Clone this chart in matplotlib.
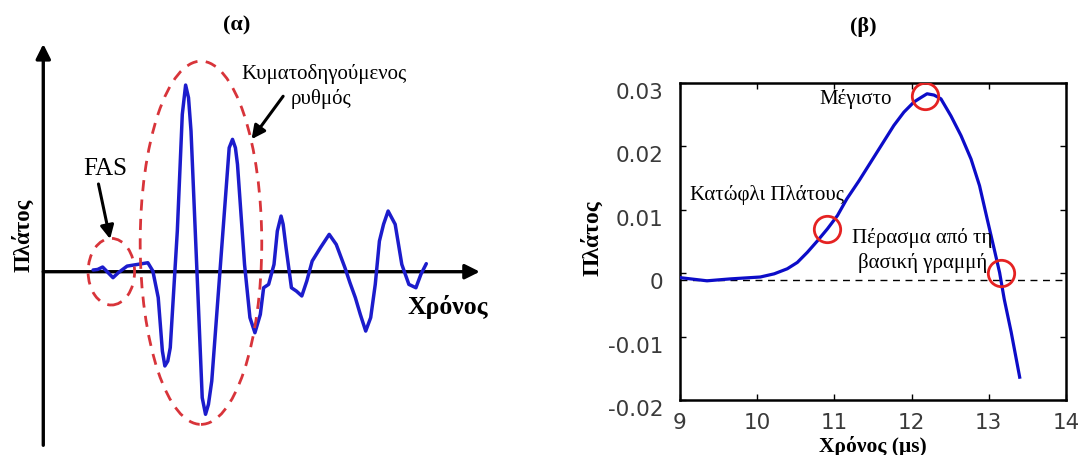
import matplotlib.pyplot as plt
from matplotlib.patches import Ellipse
from matplotlib.transforms import ScaledTranslation

plt.rcParams['font.family'] = ['Liberation Serif', 'DejaVu Serif']

# (a) guided-wave signal, arbitrary time / amplitude units
t_wave = [1.20, 1.31, 1.43, 1.68, 1.81, 2.02, 2.27, 2.52, 2.64, 2.77, 2.87, 2.93, 3.00,
          3.06, 3.23, 3.35, 3.43, 3.50, 3.56, 3.73, 3.83, 3.91, 3.98, 4.06, 4.27,
          4.48, 4.56, 4.63, 4.68, 4.85, 4.98, 5.10, 5.23, 5.31, 5.43, 5.56, 5.64,
          5.73, 5.78, 5.85, 5.98, 6.10, 6.23, 6.35, 6.48, 6.68, 6.89, 7.06, 7.27,
          7.39, 7.52, 7.64, 7.77, 7.89, 8.00, 8.10, 8.20, 8.31, 8.48, 8.64, 8.81,
          8.98, 9.10, 9.23]
a_wave = [0.009, 0.012, 0.025, -0.032, -0.005, 0.030, 0.039, 0.048, 0.004, -0.139,
          -0.425, -0.505, -0.479, -0.407, 0.218, 0.843, 1.000, 0.932, 0.754, -0.139,
          -0.675, -0.764, -0.711, -0.586, 0.039, 0.664, 0.709, 0.664, 0.575, 0.039,
          -0.246, -0.327, -0.229, -0.086, -0.068, 0.039, 0.218, 0.298, 0.254, 0.129,
          -0.086, -0.104, -0.130, -0.050, 0.057, 0.129, 0.200, 0.146, 0.021, -0.059,
          -0.139, -0.229, -0.318, -0.246, -0.068, 0.164, 0.254, 0.325, 0.254, 0.039,
          -0.068, -0.086, -0.014, 0.043]

# (b) zoom on the first arrival, time in microseconds
t_us = [9.00, 9.35, 9.65, 10.04, 10.22, 10.39, 10.52, 10.65, 10.78, 10.91, 11.04,
        11.16, 11.32, 11.47, 11.62, 11.77, 11.90, 12.03, 12.12, 12.20, 12.29, 12.38,
        12.51, 12.64, 12.77, 12.88, 12.98, 13.07, 13.14, 13.20, 13.29, 13.40]
amp = [-0.0007, -0.0012, -0.0009, -0.0006, -0.0001, 0.0007, 0.0017, 0.0033, 0.0051,
       0.0070, 0.0091, 0.0117, 0.0146, 0.0175, 0.0204, 0.0233, 0.0254, 0.0270, 0.0277,
       0.0283, 0.0281, 0.0275, 0.0248, 0.0217, 0.0180, 0.0138, 0.0085, 0.0038, 0.0001,
       -0.0041, -0.0093, -0.0164]
baseline = -0.001
marks_t = [10.91, 12.18, 13.16]
marks_a = [0.0070, 0.0280, 0.0001]
x_ticks = [9, 10, 11, 12, 13, 14]
y_ticks = [-0.02, -0.01, 0, 0.01, 0.02, 0.03]
y_ticklabels = ['-0.02', '-0.01', '0', '0.01', '0.02', '0.03']

W, H = 1078, 456
fig = plt.figure(figsize=(W / 100, H / 100), dpi=100)

# ---------- panel (a) ----------
ax1 = fig.add_axes([0, 0, 540 / W, 1])
ax1.set_xlim(-1.043, 11.97)
ax1.set_ylim(-0.982, 1.461)
ax1.axis('off')

axis_arrow = dict(arrowstyle='-|>', mutation_scale=22, lw=2.4, color='black',
                  shrinkA=0, shrinkB=0)
ax1.annotate('', xy=(0, 1.22), xytext=(0, -0.93), arrowprops=axis_arrow)
ax1.annotate('', xy=(10.52, 0), xytext=(0, 0), arrowprops=axis_arrow)

ax1.plot(t_wave, a_wave, color='#1c1ccc', lw=2.5, solid_joinstyle='round',
         solid_capstyle='round', zorder=3)

red = '#d8343a'
ax1.add_patch(Ellipse((1.64, 0.0), 1.12, 0.357, fill=False, ec=red, lw=2.0,
                      ls=(0, (4, 3)), zorder=4))
ax1.add_patch(Ellipse((3.80, 0.155), 2.93, 1.946, fill=False, ec=red, lw=2.0,
                      ls=(0, (4, 3)), zorder=4))

pointer = dict(arrowstyle='-|>', mutation_scale=20, lw=2.2, color='black',
               shrinkA=0, shrinkB=0)
ax1.annotate('', xy=(1.61, 0.175), xytext=(1.33, 0.47), arrowprops=pointer)
ax1.annotate('', xy=(5.02, 0.71), xytext=(5.78, 0.94), arrowprops=pointer)

ax1.text(1.49, 0.557, 'FAS', fontsize=18, ha='center', va='center')
ax1.text(6.76, 1.066, 'Κυματοδηγούμενος', fontsize=15, ha='center', va='center')
ax1.text(6.70, 0.93, 'ρυθμός', fontsize=15, ha='center', va='center')
ax1.text(9.75, -0.182, 'Χρόνος', fontsize=18.5, fontweight='bold',
         ha='center', va='center')
ax1.text(-0.48, 0.20, 'Πλάτος', fontsize=16.5, fontweight='bold', rotation=90,
         ha='center', va='center')

fig.text(237 / W, 1 - 25 / H, '(α)', fontsize=16, fontweight='bold',
         ha='center', va='center')

# ---------- panel (b) ----------
ax2 = fig.add_axes([680 / W, 55 / H, 386 / W, 317 / H])
ax2.axhline(baseline, color='black', lw=1.0, ls=(0, (5, 4)), zorder=1)
ax2.plot(t_us, amp, color='#0c0cc8', lw=2.3, solid_joinstyle='round', zorder=3)
ax2.plot(marks_t, marks_a, 'o', ms=19, mfc='none', mec='#e52222', mew=2.0, zorder=4)

ax2.set_xlim(9, 14)
ax2.set_ylim(-0.02, 0.03)
ax2.set_xticks(x_ticks)
ax2.set_yticks(y_ticks)
ax2.set_yticklabels(y_ticklabels)
ax2.tick_params(direction='in', length=4, width=1, top=True, right=True,
                labelsize=15.5, labelcolor='#3a3a3a', labelfontfamily='DejaVu Sans')
ax2.tick_params(axis='x', pad=9)
ax2.tick_params(axis='y', pad=12)
for sp in ax2.spines.values():
    sp.set_linewidth(1.8)

shift = ScaledTranslation(0, -7 / 100, fig.dpi_scale_trans)
for lab in ax2.get_yticklabels():
    lab.set_transform(lab.get_transform() + shift)

ax2.text(11.27, 0.0276, 'Μέγιστο', fontsize=15, ha='center', va='center')
ax2.text(10.13, 0.0125, 'Κατώφλι Πλάτους', fontsize=15, ha='center', va='center')
ax2.text(12.14, 0.0057, 'Πέρασμα από τη', fontsize=15, ha='center', va='center')
ax2.text(12.14, 0.0017, 'βασική γραμμή', fontsize=15, ha='center', va='center')

ax2.set_xlabel('Χρόνος (μs)', fontsize=15.5, fontweight='bold', va='center')
ax2.xaxis.set_label_coords(0.5, -0.145)
ax2.set_ylabel('Πλάτος', fontsize=17, fontweight='bold', va='center')
ax2.yaxis.set_label_coords(-0.228, 0.514)

fig.text(863 / W, 1 - 27 / H, '(β)', fontsize=16, fontweight='bold',
         ha='center', va='center')

fig.savefig('out.png', dpi=100)
